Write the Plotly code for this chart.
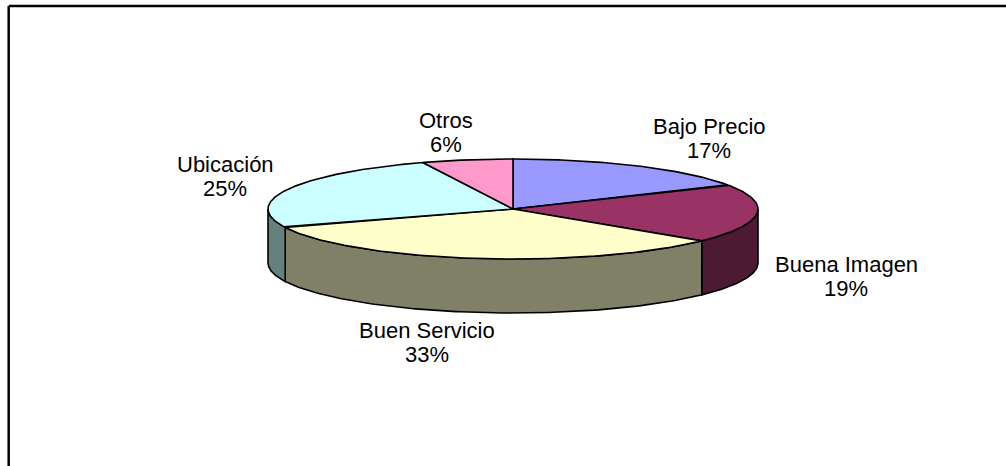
import numpy as np
import plotly.graph_objects as go

# Survey shares by reason
categories = ["Bajo Precio", "Buena Imagen", "Buen Servicio", "Ubicación", "Otros"]
shares = [17, 19, 33, 25, 6]

# Slice styling: top face and darker outer wall
top_colors = ["#9999FF", "#993366", "#FFFFCC", "#CCFFFF", "#FF99CC"]
side_colors = ["#4C4C80", "#4D1A33", "#808066", "#668080", "#804C66"]

# Label anchors (centre of first line) in page pixels
label_xy = [(709, 126), (846, 264), (427, 330), (225, 164), (446, 120)]
LINE_GAP = 24

W, H = 1006, 466
CX, CY, RX, RY, DEPTH = 513, 209, 245, 50, 54


def ellipse(a0, a1, n=120, dy=0.0):
    """Points on the top ellipse, angles in degrees clockwise from 12 o'clock."""
    t = np.radians(np.linspace(a0, a1, n))
    return CX + RX * np.sin(t), CY - RY * np.cos(t) + dy


total = float(sum(shares))
bounds = np.concatenate([[0.0], np.cumsum(shares) / total * 360.0])

fig = go.Figure()

# Outer walls (only the front half, 90..270 degrees, faces the viewer)
for i in range(len(shares)):
    s, e = max(bounds[i], 90.0), min(bounds[i + 1], 270.0)
    if e <= s:
        continue
    xt, yt = ellipse(s, e)
    xb, yb = ellipse(e, s, dy=DEPTH)
    xs = np.concatenate([xt, xb, xt[:1]])
    ys = np.concatenate([yt, yb, yt[:1]])
    fig.add_trace(go.Scatter(
        x=xs, y=ys, mode="lines", fill="toself",
        fillcolor=side_colors[i], line=dict(color="#000000", width=1.6),
        hoverinfo="skip", showlegend=False))

# Top faces of the slices
for i in range(len(shares)):
    xa, ya = ellipse(bounds[i], bounds[i + 1])
    xs = np.concatenate([[CX], xa, [CX]])
    ys = np.concatenate([[CY], ya, [CY]])
    fig.add_trace(go.Scatter(
        x=xs, y=ys, mode="lines", fill="toself",
        fillcolor=top_colors[i], line=dict(color="#000000", width=1.6),
        hoverinfo="skip", showlegend=False))

# Category and percentage labels
font = dict(family="Arial, Liberation Sans, sans-serif", size=22, color="#000000")
for name, val, (lx, ly) in zip(categories, shares, label_xy):
    fig.add_annotation(x=lx, y=ly, text=name, showarrow=False, font=font,
                       xanchor="center", yanchor="middle")
    fig.add_annotation(x=lx, y=ly + LINE_GAP, text=f"{val}%", showarrow=False,
                       font=font, xanchor="center", yanchor="middle")

# Chart frame (left and top edges fall inside the page)
frame = dict(color="#000000", width=2.5)
fig.add_shape(type="line", x0=8.7, y0=6, x1=8.7, y1=H + 5, line=frame)
fig.add_shape(type="line", x0=8.7, y0=6, x1=W + 5, y1=6, line=frame)

fig.update_layout(
    width=W, height=H,
    margin=dict(l=0, r=0, t=0, b=0),
    paper_bgcolor="#FFFFFF", plot_bgcolor="#FFFFFF",
    xaxis=dict(range=[0, W], visible=False, fixedrange=True),
    yaxis=dict(range=[H, 0], visible=False, fixedrange=True),
    showlegend=False,
)

fig.write_html("out.html")
